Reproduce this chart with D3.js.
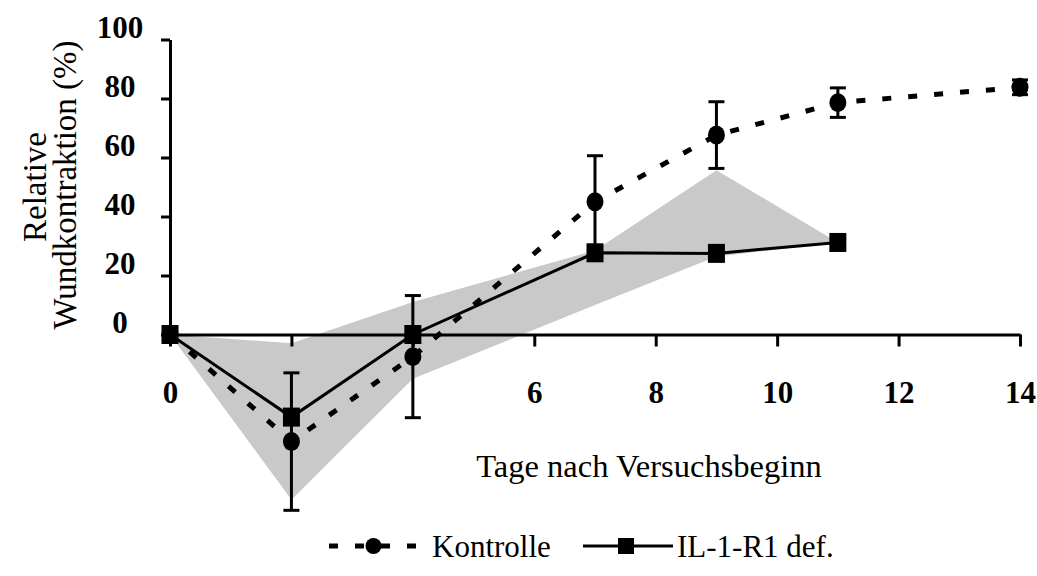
<!DOCTYPE html>
<html>
<head>
<meta charset="utf-8">
<script src="https://cdn.jsdelivr.net/npm/d3@7"></script>
<style>
  html, body { margin: 0; padding: 0; background: #fff; }
  svg { display: block; }
</style>
</head>
<body>
<svg id="chart" width="1037" height="576"></svg>
<script>
// ---- data ----
const days = [0, 2, 4, 7, 9, 11, 14];
const kontrolle = [0, -36.3, -7.5, 45, 67.6, 78.6, 83.8];
const kontrolleErr = [0, 23.3, 20.7, 15.6, 11.3, 5, 2.5];
const ilDays = [0, 2, 4, 7, 9, 11];
const il1 = [0, -28, 0, 27.7, 27.5, 31.2];
const il1Upper = [0, -3, 11, 28.5, 55.7, 31.2];
const il1Lower = [0, -56, -15, 10, 26.4, 31.2];
const xTicks = [0, 2, 4, 6, 8, 10, 12, 14];
const xTickLabels = ["0", "", "", "6", "8", "10", "12", "14"];
const yTicks = [0, 20, 40, 60, 80, 100];
const yTickLabels = ["0", "20", "40", "60", "80", "100"];
const seriesNames = ["Kontrolle", "IL-1-R1 def."];
const xTitle = "Tage nach Versuchsbeginn";
const yTitleLines = ["Relative", "Wundkontraktion (%)"];

// ---- layout ----
const svg = d3.select("#chart");
const x = d3.scaleLinear().domain([0, 14]).range([170, 1020]);
const y = d3.scaleLinear().domain([0, 100]).range([334.5, 39.5]);
const serif = "'Liberation Serif', 'Times New Roman', serif";

// band
const band = d3.area()
  .x((d, i) => x(ilDays[i]))
  .y0((d, i) => y(il1Lower[i]))
  .y1((d, i) => y(il1Upper[i]));
svg.append("path").datum(ilDays).attr("d", band)
  .attr("fill", "#c9c9c9").attr("stroke", "none");

// axes
const xAxis = d3.axisBottom(x).tickValues(xTicks).tickSize(12).tickSizeOuter(0)
  .tickFormat((d, i) => xTickLabels[i]);
const gx = svg.append("g").attr("transform", `translate(0,${y(0)})`).call(xAxis);
gx.selectAll("text").attr("y", 68).attr("dy", 0)
  .attr("font-family", serif).attr("font-weight", "bold").attr("font-size", 31).attr("fill", "#000");

const yAxis = d3.axisLeft(y).tickValues(yTicks).tickSize(9).tickSizeOuter(0)
  .tickFormat((d, i) => yTickLabels[i]);
const gy = svg.append("g").attr("transform", `translate(${x(0)},0)`).call(yAxis);
gy.selectAll("text").attr("x", -50).attr("dy", 0).attr("y", -2)
  .attr("text-anchor", "middle")
  .attr("font-family", serif).attr("font-weight", "bold").attr("font-size", 31).attr("fill", "#000");

[gx, gy].forEach(g => {
  g.selectAll("path.domain, line").attr("stroke", "#000").attr("stroke-width", 3);
});

// Kontrolle line (dashed)
const lineK = d3.line().x((d, i) => x(days[i])).y(d => y(d));
svg.append("path").datum(kontrolle).attr("d", lineK)
  .attr("fill", "none").attr("stroke", "#000").attr("stroke-width", 5)
  .attr("stroke-dasharray", "9,17");

// error bars
const eb = svg.append("g").attr("stroke", "#000").attr("stroke-width", 3);
days.forEach((d, i) => {
  const e = kontrolleErr[i];
  if (!e) return;
  const cx = x(d), top = y(kontrolle[i] + e), bot = y(kontrolle[i] - e);
  eb.append("line").attr("x1", cx).attr("x2", cx).attr("y1", top).attr("y2", bot);
  eb.append("line").attr("x1", cx - 8).attr("x2", cx + 8).attr("y1", top).attr("y2", top);
  eb.append("line").attr("x1", cx - 8).attr("x2", cx + 8).attr("y1", bot).attr("y2", bot);
});

// Kontrolle markers
svg.append("g").selectAll("ellipse").data(kontrolle).join("ellipse")
  .attr("cx", (d, i) => x(days[i])).attr("cy", d => y(d))
  .attr("rx", 8.5).attr("ry", 9.5).attr("fill", "#000");

// IL line
const lineI = d3.line().x((d, i) => x(ilDays[i])).y(d => y(d));
svg.append("path").datum(il1).attr("d", lineI)
  .attr("fill", "none").attr("stroke", "#000").attr("stroke-width", 3);
svg.append("g").selectAll("rect").data(il1).join("rect")
  .attr("x", (d, i) => x(ilDays[i]) - 8.5).attr("y", d => y(d) - 9.5)
  .attr("width", 17).attr("height", 19).attr("fill", "#000");

// titles
svg.append("text").attr("x", 649).attr("y", 477).attr("text-anchor", "middle")
  .attr("font-family", serif).attr("font-size", 32.5).attr("fill", "#000").text(xTitle);
svg.append("text").attr("transform", "translate(46,187) rotate(-90)").attr("text-anchor", "middle")
  .attr("font-family", serif).attr("font-size", 33).attr("fill", "#000").text(yTitleLines[0]);
svg.append("text").attr("transform", "translate(76,185) rotate(-90)").attr("text-anchor", "middle")
  .attr("font-family", serif).attr("font-size", 33).attr("fill", "#000").text(yTitleLines[1]);

// legend
const ly = 546;
const lg = svg.append("g");
lg.append("line").attr("x1", 329).attr("x2", 420).attr("y1", ly).attr("y2", ly)
  .attr("stroke", "#000").attr("stroke-width", 5).attr("stroke-dasharray", "9,17");
lg.append("ellipse").attr("cx", 373.5).attr("cy", ly).attr("rx", 8).attr("ry", 8).attr("fill", "#000");
lg.append("text").attr("x", 432).attr("y", 557).attr("font-family", serif).attr("font-size", 31)
  .attr("fill", "#000").text(seriesNames[0]);
lg.append("line").attr("x1", 583).attr("x2", 673).attr("y1", ly).attr("y2", ly)
  .attr("stroke", "#000").attr("stroke-width", 3);
lg.append("rect").attr("x", 618).attr("y", ly - 8).attr("width", 16).attr("height", 16).attr("fill", "#000");
lg.append("text").attr("x", 677).attr("y", 557).attr("font-family", serif).attr("font-size", 31)
  .attr("fill", "#000").text(seriesNames[1]);
</script>
</body>
</html>
